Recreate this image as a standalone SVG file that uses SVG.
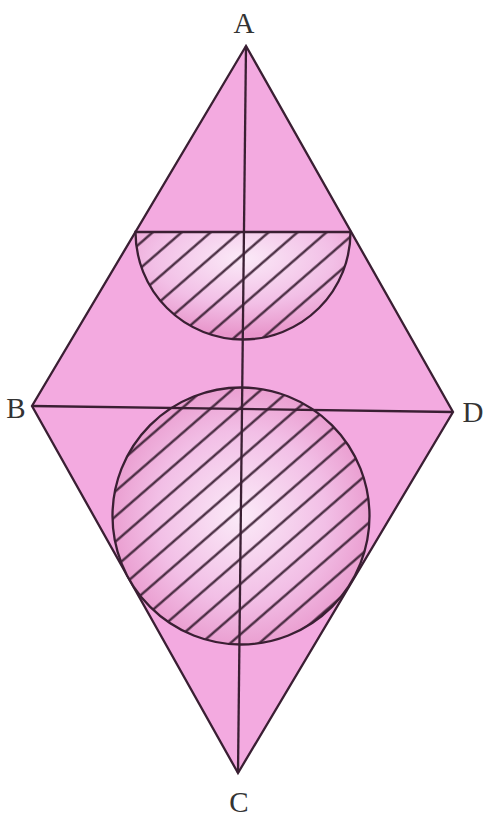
<svg xmlns="http://www.w3.org/2000/svg" width="489" height="823" viewBox="0 0 489 823">
<style>
.edge{stroke:#3a1f33;stroke-width:2.3;stroke-linejoin:miter}
.line{fill:none;stroke:#3a1f33;stroke-width:2.3}
.lbl{font-family:"Liberation Serif",serif;font-size:29px;fill:#333;text-anchor:middle}
</style>
<defs>
<radialGradient id="g1" cx="0.5" cy="0.5" r="0.55">
<stop offset="0" stop-color="#fbeaf8"/>
<stop offset="0.6" stop-color="#f2bfe6"/>
<stop offset="1" stop-color="#e896cb"/>
</radialGradient>
<radialGradient id="g2" cx="0.5" cy="0.25" r="0.7">
<stop offset="0" stop-color="#fbeaf8"/>
<stop offset="0.6" stop-color="#f2bfe6"/>
<stop offset="1" stop-color="#e896cb"/>
</radialGradient>
<pattern id="hatch" patternUnits="userSpaceOnUse" width="19" height="19" patternTransform="rotate(-41)">
<line x1="0" y1="9.5" x2="19" y2="9.5" stroke="#3a1f33" stroke-width="2.2"/>
</pattern>
</defs>
<g id="rhombus">
<polygon points="246,46 32,406 238,773 453,412" fill="#f3aae0" class="edge"/>
</g>
<g id="semicircle">
<path d="M135.5,232 A107,107 0 0 0 350.5,232 Z" fill="url(#g2)"/>
<path d="M135.5,232 A107,107 0 0 0 350.5,232 Z" fill="url(#hatch)" class="edge"/>
</g>
<g id="circle">
<circle cx="241" cy="516" r="128.5" fill="url(#g1)"/>
<circle cx="241" cy="516" r="128.5" fill="url(#hatch)" class="edge"/>
</g>
<g id="connectors">
<line x1="246" y1="46" x2="238" y2="773" class="line"/>
<line x1="32" y1="406" x2="453" y2="412" class="line"/>
</g>
<g id="labels">
<text class="lbl" x="244" y="33">A</text>
<text class="lbl" x="16" y="418">B</text>
<text class="lbl" x="473" y="422">D</text>
<text class="lbl" x="239" y="812">C</text>
</g>
</svg>
